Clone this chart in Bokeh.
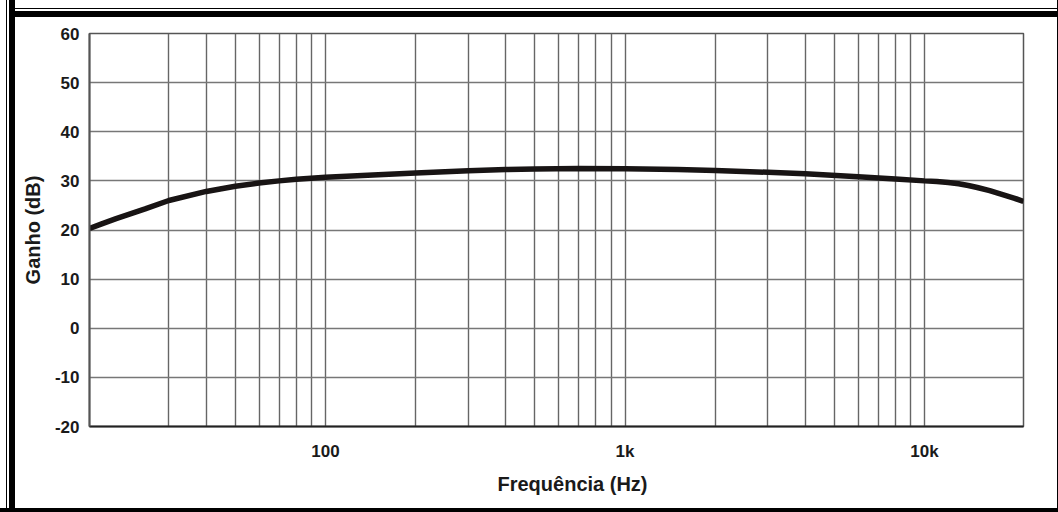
from bokeh.plotting import figure
from bokeh.models import FixedTicker, Range1d, Title
from bokeh.embed import file_html
from bokeh.resources import INLINE

# ---- data ----
freq_hz = [16.3, 18, 20, 25, 30, 40, 50, 60, 70, 80, 100, 150, 200, 300, 400,
           500, 700, 1000, 1500, 2000, 3000, 4000, 6000, 8000, 10000, 11000,
           12000, 13000, 14000, 15000, 16500, 18000, 20000, 21400]
gain_db = [20.3, 21.3, 22.3, 24.3, 26.0, 27.85, 28.9, 29.55, 30.0, 30.35,
           30.75, 31.25, 31.6, 32.05, 32.3, 32.42, 32.5, 32.45, 32.3, 32.1,
           31.75, 31.45, 30.85, 30.4, 30.0, 29.85, 29.65, 29.4, 29.05, 28.65,
           28.0, 27.3, 26.45, 25.8]

x_tick_values = [100, 1000, 10000]
x_tick_labels = ["100", "1k", "10k"]
x_grid_values = [30, 40, 50, 60, 70, 80, 90, 100,
                 200, 300, 400, 500, 600, 700, 800, 900, 1000,
                 2000, 3000, 4000, 5000, 6000, 7000, 8000, 9000, 10000]
y_tick_values = [-20, -10, 0, 10, 20, 30, 40, 50, 60]
y_tick_labels = ["-20", "-10", "0", "10", "20", "30", "40", "50", "60"]
x_lim = (16.3, 21400)
y_lim = (-20, 60)
x_title = "Frequência (Hz)"
y_title = "Ganho (dB)"

FONT = "Liberation Sans"
W, H = 1058, 512

p = figure(width=W, height=H, x_axis_type="log",
           x_range=Range1d(*x_lim), y_range=Range1d(*y_lim),
           output_backend="svg", toolbar_location=None,
           min_border_left=89, min_border_right=35,
           min_border_top=33, min_border_bottom=86,
           y_axis_label=y_title)

p.background_fill_color = "white"
p.border_fill_alpha = 0
p.outline_line_color = "#555555"
p.outline_line_width = 1.5

# picture frame drawn as inset shadows on the figure element
shadows = [
    "inset 0 -4px 0 0 black",
    "inset -1px 0 0 0 black",
    "inset 6px 0 0 0 white", "inset 7px 0 0 0 black",
    "inset 9px 0 0 0 white", "inset 15px 0 0 0 black",
    "inset 0 8px 0 0 white", "inset 0 9px 0 0 black",
    "inset 0 11px 0 0 white", "inset 0 17px 0 0 black",
]
p.styles = {"box-shadow": ", ".join(shadows), "background-color": "white"}

# grids
p.xgrid.ticker = FixedTicker(ticks=x_grid_values)
p.xgrid.grid_line_color = "#666666"
p.xgrid.grid_line_width = 1.4
p.ygrid.ticker = FixedTicker(ticks=y_tick_values)
p.ygrid.grid_line_color = "#777777"
p.ygrid.grid_line_width = 1.4

# axes
xa = p.xaxis[0]
xa.ticker = FixedTicker(ticks=x_tick_values)
xa.major_label_overrides = {v: l for v, l in zip(x_tick_values, x_tick_labels)}
ya = p.yaxis[0]
ya.ticker = FixedTicker(ticks=y_tick_values)
ya.major_label_overrides = {v: l for v, l in zip(y_tick_values, y_tick_labels)}

for ax in (xa, ya):
    ax.major_tick_line_color = None
    ax.minor_tick_line_color = None
    ax.major_tick_out = 0
    ax.major_tick_in = 0
    ax.minor_tick_out = 0
    ax.axis_line_color = "#222222"
    ax.axis_line_width = 2
    ax.major_label_text_font = FONT
    ax.major_label_text_font_style = "bold"
    ax.major_label_text_font_size = "17px"
    ax.major_label_text_color = "#1a1a1a"
    ax.axis_label_text_font = FONT
    ax.axis_label_text_font_style = "bold"
    ax.axis_label_text_font_size = "20px"
    ax.axis_label_text_color = "#1a1a1a"

ya.axis_line_color = "#555555"
xa.major_label_standoff = 15
ya.major_label_standoff = 10
ya.axis_label_standoff = 8

# x-axis title, placed slightly right of centre as in the reference
p.add_layout(Title(text=x_title, align="left", offset=408, standoff=15,
                   text_font=FONT, text_font_style="bold",
                   text_font_size="20px", text_color="#1a1a1a"), "below")

p.line(freq_hz, gain_db, line_color="#181414", line_width=5.5)

open("out.html", "w").write(file_html(p, INLINE))
